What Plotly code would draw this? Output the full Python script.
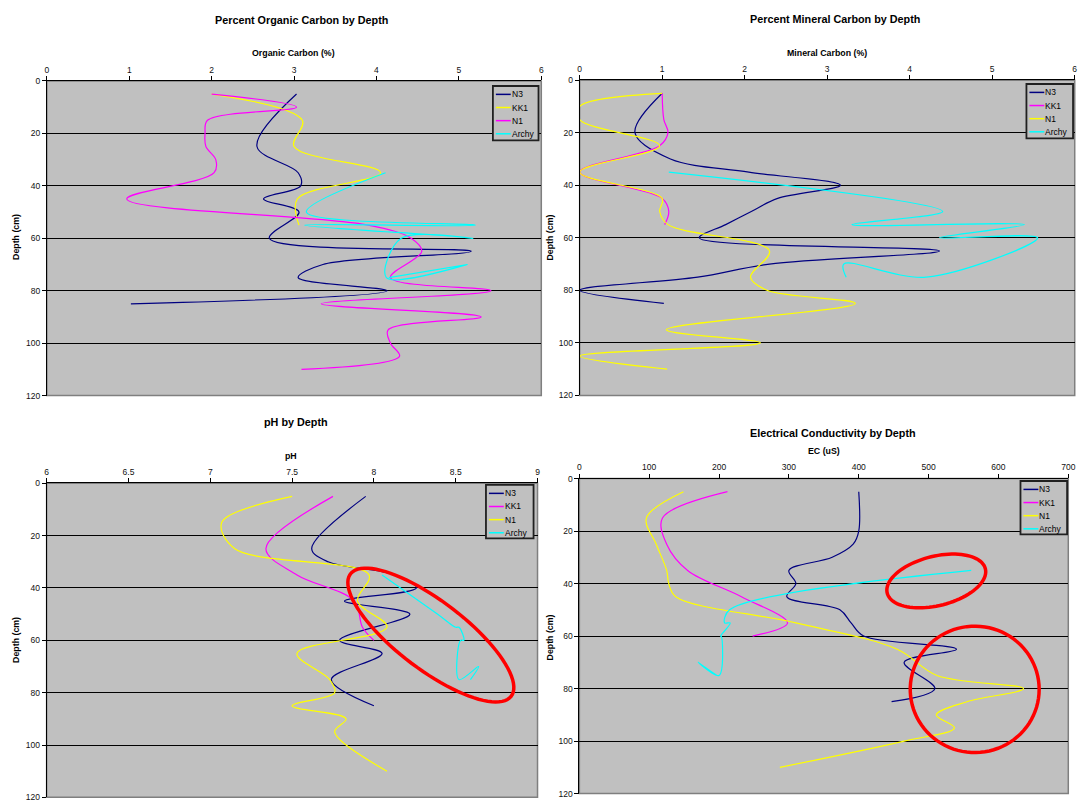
import numpy as np
import plotly.graph_objects as go

# ---------------- data ----------------
series_names = ["N3", "KK1", "N1", "Archy"]

# Organic carbon (%)
oc_N3_depth = [5, 25, 35, 40, 45, 50, 60, 65, 70, 75, 80, 85]
oc_N3 = [3.03, 2.55, 3.05, 3.08, 2.63, 3.06, 2.70, 5.15, 3.35, 3.05, 4.13, 1.02]
oc_KK1_depth = [5, 15, 25, 35, 45, 55]
oc_KK1 = [2.0, 3.1, 3.0, 4.05, 3.04, 3.06]
oc_N1_depth = [5, 10, 15, 20, 25, 30, 35, 45, 55, 60, 65, 75, 80, 85, 90, 95, 100, 105, 110]
oc_N1 = [2.0, 3.03, 1.95, 1.92, 1.93, 2.05, 2.03, 0.97, 3.9, 4.42, 4.55, 4.17, 5.39, 3.33, 5.27, 4.14, 4.17, 4.28, 3.09]
oc_Archy_depth = [35, 50, 55, 55, 60, 60, 75, 70, 75]
oc_Archy = [4.11, 3.15, 5.2, 3.13, 5.17, 4.3, 4.12, 5.1, 4.15]

# Mineral carbon (%)
mc_N3_depth = [5, 20, 30, 35, 40, 45, 50, 55, 60, 65, 70, 75, 80, 85]
mc_N3 = [1.0, 0.67, 1.1, 2.05, 3.16, 2.4, 2.08, 1.77, 1.45, 4.36, 2.3, 1.43, 0.0, 1.02]
mc_KK1_depth = [5, 15, 20, 25, 35, 45, 50, 55]
mc_KK1 = [1.0, 1.02, 1.07, 0.97, 0.0, 1.0, 1.08, 1.03]
mc_N1_depth = [5, 10, 15, 25, 35, 45, 50, 55, 65, 75, 80, 85, 95, 100, 105, 110]
mc_N1 = [1.0, 0.0, 0.0, 0.97, 0.0, 1.0, 0.97, 1.07, 2.3, 2.07, 2.27, 3.34, 1.05, 2.19, 0.0, 1.06]
mc_Archy_depth = [35, 50, 55, 55, 60, 60, 75, 70, 75]
mc_Archy = [1.08, 4.4, 3.3, 5.39, 4.36, 5.55, 4.2, 3.2, 3.23]

# pH
ph_N3_depth = [5, 25, 30, 35, 40, 45, 50, 60, 65, 75, 85]
ph_N3 = [7.95, 7.62, 7.72, 8.13, 8.26, 7.82, 8.22, 7.79, 8.05, 7.74, 8.0]
ph_KK1_depth = [5, 25, 35, 45, 55, 60]
ph_KK1 = [7.75, 7.34, 7.53, 7.88, 7.93, 8.0]
ph_N1_depth = [5, 15, 25, 35, 45, 55, 65, 75, 80, 85, 90, 95, 110]
ph_N1 = [7.5, 7.07, 7.15, 7.97, 7.9, 8.08, 7.53, 7.73, 7.76, 7.5, 7.83, 7.76, 8.08]
ph_Archy_depth = [35, 50, 55, 55, 60, 60, 75, 70, 75]
ph_Archy = [8.05, 8.39, 8.5, 8.52, 8.55, 8.53, 8.52, 8.64, 8.59]

# Electrical conductivity (uS)
ec_N3_depth = [5, 20, 25, 30, 35, 40, 45, 50, 55, 60, 65, 70, 80, 85]
ec_N3 = [400, 400, 392, 362, 300, 310, 297, 373, 389, 407, 540, 465, 509, 447]
ec_KK1_depth = [5, 15, 25, 35, 45, 55, 60]
ec_KK1 = [212, 119, 125, 155, 232, 298, 248]
ec_N1_depth = [5, 15, 25, 35, 40, 45, 55, 65, 75, 80, 85, 90, 95, 100, 110]
ec_N1 = [149, 96, 110, 125, 128, 138, 310, 455, 512, 636, 555, 511, 537, 465, 287]
ec_Archy_depth = [35, 50, 55, 55, 60, 60, 75, 70, 75]
ec_Archy = [561, 215, 208, 216, 202, 203, 200, 170, 197]

titles = ["Percent Organic Carbon by Depth", "Percent Mineral Carbon by Depth",
          "pH by Depth", "Electrical Conductivity by Depth"]
x_titles = ["Organic Carbon (%)", "Mineral Carbon (%)", "pH", "EC (uS)"]
x_ranges = [[0, 6], [0, 6], [6, 9], [0, 700]]
x_dticks = [1, 1, 0.5, 100]
y_title = "Depth (cm)"

# ---------------- styling / layout ----------------
NAVY, YEL, MAG, CYAN = "#000080", "#FFFF00", "#FF00FF", "#00FFFF"
W, H = 1086, 806
FONT = "Liberation Sans, Arial, sans-serif"
# plot-area pixel boxes (left, right, top, bottom)
boxes = [(45.2, 543.8, 76.9, 395.5), (582.5, 1081.7, 76.1, 395.3),
         (45.0, 540.0, 484.3, 802.3), (582.2, 1075.2, 479.5, 798.5)]

panels = [
    [(oc_N3_depth, oc_N3, NAVY), (oc_KK1_depth, oc_KK1, YEL), (oc_N1_depth, oc_N1, MAG), (oc_Archy_depth, oc_Archy, CYAN)],
    [(mc_N3_depth, mc_N3, NAVY), (mc_KK1_depth, mc_KK1, MAG), (mc_N1_depth, mc_N1, YEL), (mc_Archy_depth, mc_Archy, CYAN)],
    [(ph_N3_depth, ph_N3, NAVY), (ph_KK1_depth, ph_KK1, MAG), (ph_N1_depth, ph_N1, YEL), (ph_Archy_depth, ph_Archy, CYAN)],
    [(ec_N3_depth, ec_N3, NAVY), (ec_KK1_depth, ec_KK1, MAG), (ec_N1_depth, ec_N1, YEL), (ec_Archy_depth, ec_Archy, CYAN)],
]

fig = go.Figure()
for p, traces in enumerate(panels):
    sfx = "" if p == 0 else str(p + 1)
    for name, (d, v, col) in zip(series_names, traces):
        fig.add_trace(go.Scatter(
            x=v, y=d, mode="lines", name=name, showlegend=False,
            line=dict(color=col, width=1.2, shape="spline", smoothing=1.0),
            xaxis="x" + sfx, yaxis="y" + sfx, hoverinfo="skip"))

layout = dict(
    width=W, height=H, margin=dict(l=0, r=0, t=0, b=0),
    paper_bgcolor="white", plot_bgcolor="#C0C0C0",
    font=dict(family=FONT, size=9, color="black"),
    showlegend=False,
)
annotations = []
shapes = []
for p, (l, r, t, b) in enumerate(boxes):
    sfx = "" if p == 0 else str(p + 1)
    layout["xaxis" + sfx] = dict(
        domain=[l / W, r / W], anchor="y" + sfx, side="top",
        range=x_ranges[p], dtick=x_dticks[p], tick0=x_ranges[p][0],
        showline=True, linecolor="black", linewidth=1,
        ticks="outside", ticklen=4, tickcolor="black",
        showgrid=False, zeroline=False,
        tickfont=dict(size=8.5, family=FONT, color="#111"))
    layout["yaxis" + sfx] = dict(
        domain=[1 - b / H, 1 - t / H], anchor="x" + sfx,
        range=[120, 0], dtick=20,
        showline=True, linecolor="black", linewidth=1,
        ticks="outside", ticklen=4, tickcolor="black",
        showgrid=True, gridcolor="black", gridwidth=1, zeroline=False,
        tickfont=dict(size=8.5, family=FONT, color="#111"))
    shapes.append(dict(type="rect", xref="x%s domain" % sfx, yref="y%s domain" % sfx,
                       x0=0, x1=1, y0=0, y1=1, line=dict(color="#7F7F7F", width=1.5),
                       layer="below"))

# titles and axis titles (pixel positions)
title_pos = [(302, 15), (840, 14), (296, 422), (838, 433)]
xtitle_pos = [(294, 49), (832, 49), (291, 457), (829, 452)]
ytitle_pos = [(14, 235), (553, 235), (14, 643), (553, 640)]
for p in range(4):
    annotations.append(dict(text="<b>%s</b>" % titles[p], x=title_pos[p][0] / W, y=1 - title_pos[p][1] / H,
                            xref="paper", yref="paper", showarrow=False, xanchor="center", yanchor="middle",
                            font=dict(size=10.8, family=FONT, color="black")))
    annotations.append(dict(text="<b>%s</b>" % x_titles[p], x=xtitle_pos[p][0] / W, y=1 - xtitle_pos[p][1] / H,
                            xref="paper", yref="paper", showarrow=False, xanchor="center", yanchor="middle",
                            font=dict(size=8.8, family=FONT, color="black")))
    annotations.append(dict(text="<b>%s</b>" % y_title, x=ytitle_pos[p][0] / W, y=1 - ytitle_pos[p][1] / H,
                            xref="paper", yref="paper", showarrow=False, xanchor="center", yanchor="middle",
                            textangle=-90, font=dict(size=8.8, family=FONT, color="black")))

# compact legends (Excel style): box, short line sample and real text for each series
legend_boxes = [(495, 541, 82, 137), (1033, 1080, 80, 135), (488, 536, 486, 540), (1027, 1074, 482, 536)]
for p, (lx0, lx1, ly0, ly1) in enumerate(legend_boxes):
    shapes.append(dict(type="rect", xref="paper", yref="paper",
                       x0=lx0 / W, x1=lx1 / W, y0=1 - ly1 / H, y1=1 - ly0 / H,
                       fillcolor="#C0C0C0", line=dict(color="#202020", width=1.8), layer="above"))
    for i, name in enumerate(series_names):
        col = panels[p][i][2]
        yc = ly0 + 8.5 + 13.3 * i
        shapes.append(dict(type="line", xref="paper", yref="paper",
                           x0=(lx0 + 3) / W, x1=(lx0 + 18) / W, y0=1 - yc / H, y1=1 - yc / H,
                           line=dict(color=col, width=1.5), layer="above"))
        annotations.append(dict(text=name, x=(lx0 + 18) / W, y=1 - yc / H, xref="paper", yref="paper",
                                showarrow=False, xanchor="left", yanchor="middle", borderpad=0,
                                font=dict(size=8.5, family=FONT, color="black")))

# red highlight ellipses (annotation marks): center in data units, semi-axes in px, angle in deg
def ellipse_path(cx, cy, a_px, b_px, ang_deg, xppu, yppu, n=90):
    tt = np.linspace(0, 2 * np.pi, n)
    th = np.radians(ang_deg)
    dx = a_px * np.cos(tt) * np.cos(th) - b_px * np.sin(tt) * np.sin(th)
    dy = a_px * np.cos(tt) * np.sin(th) + b_px * np.sin(tt) * np.cos(th)
    xs = cx + dx / xppu
    ys = cy + dy / yppu
    return "M " + " L ".join("%.4f,%.4f" % (x, y) for x, y in zip(xs, ys)) + " Z"

def ppu(p):
    l, r, t, b = boxes[p]
    return (r - l) / (x_ranges[p][1] - x_ranges[p][0]), (b - t) / 120.0

ellipses = [
    (2, 8.348, 58.0, 102, 34.5, 37.4),
    (3, 511.0, 39.0, 51, 25, -14),
    (3, 566.0, 80.3, 65, 64, 0),
]
for p, cx, cy, a, bb, ang in ellipses:
    xp, yp = ppu(p)
    sfx = str(p + 1)
    shapes.append(dict(type="path", xref="x" + sfx, yref="y" + sfx,
                       path=ellipse_path(cx, cy, a, bb, ang, xp, yp),
                       line=dict(color="#FF0000", width=3.5), layer="above"))

layout["annotations"] = annotations
layout["shapes"] = shapes
fig.update_layout(**layout)
fig.write_html("out.html", config={"displayModeBar": False},
               post_script="document.body.style.margin='0px';document.body.style.overflow='hidden';")
